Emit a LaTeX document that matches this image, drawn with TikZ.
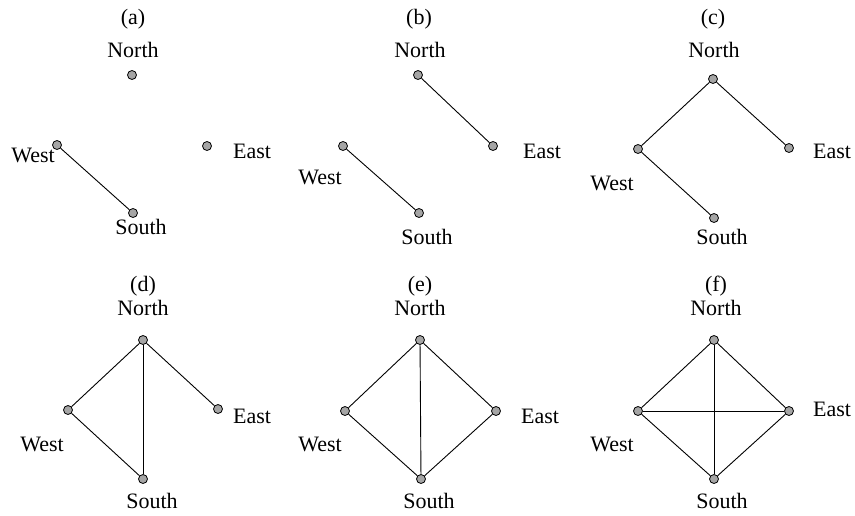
\documentclass[tikz,border=0pt]{standalone}
\usepackage{fontspec}
\setmainfont{Liberation Serif}
\definecolor{dotgray}{RGB}{165,165,165}
\begin{document}
\begin{tikzpicture}[x=1pt,y=-1pt,
  vtx/.style={circle,draw=black,fill=dotgray,line width=0.8pt,minimum size=9pt,inner sep=0pt},
  lbl/.style={anchor=base,inner sep=0pt,font=\fontsize{22}{25}\selectfont},
  edge/.style={draw=black,line width=0.9pt}]
\useasboundingbox (0,0) rectangle (855,515);
% ---------- (a)
\node[lbl] (ta) at (133,24) {(a)};
\node[lbl] (aNl) at (133,57) {North};
\node[lbl] (aWl) at (33,162) {West};
\node[lbl] (aEl) at (252,158) {East};
\node[lbl] (aSl) at (141,234) {South};
\node[vtx] (aN) at (132,75) {};
\node[vtx] (aW) at (57,145) {};
\node[vtx] (aE) at (207,146) {};
\node[vtx] (aS) at (133,213) {};
\draw[edge] (aW) -- (aS);
% ---------- (b)
\node[lbl] (tb) at (419,24) {(b)};
\node[lbl] (bNl) at (420,57) {North};
\node[lbl] (bWl) at (320,184) {West};
\node[lbl] (bEl) at (542,158) {East};
\node[lbl] (bSl) at (427,244) {South};
\node[vtx] (bN) at (418,75) {};
\node[vtx] (bW) at (343,146) {};
\node[vtx] (bE) at (493,146) {};
\node[vtx] (bS) at (419,213) {};
\draw[edge] (bW) -- (bS);
\draw[edge] (bN) -- (bE);
% ---------- (c)
\node[lbl] (tc) at (713,24) {(c)};
\node[lbl] (cNl) at (714,57) {North};
\node[lbl] (cWl) at (612,190) {West};
\node[lbl] (cEl) at (832,158) {East};
\node[lbl] (cSl) at (722,244) {South};
\node[vtx] (cN) at (713,79) {};
\node[vtx] (cW) at (638,149) {};
\node[vtx] (cE) at (789,148) {};
\node[vtx] (cS) at (714,218) {};
\draw[edge] (cW) -- (cS);
\draw[edge] (cN) -- (cE);
\draw[edge] (cN) -- (cW);
% ---------- (d)
\node[lbl] (td) at (143,291) {(d)};
\node[lbl] (dNl) at (143,315) {North};
\node[lbl] (dWl) at (42,451) {West};
\node[lbl] (dEl) at (252,423) {East};
\node[lbl] (dSl) at (152,508) {South};
\node[vtx] (dN) at (143,340) {};
\node[vtx] (dW) at (68,410) {};
\node[vtx] (dE) at (218,409) {};
\node[vtx] (dS) at (143,479) {};
\draw[edge] (dW) -- (dS);
\draw[edge] (dN) -- (dE);
\draw[edge] (dN) -- (dW);
\draw[edge] (dN) -- (dS);
% ---------- (e)
\node[lbl] (te) at (420,291) {(e)};
\node[lbl] (eNl) at (420,315) {North};
\node[lbl] (eWl) at (320,451) {West};
\node[lbl] (eEl) at (540,423) {East};
\node[lbl] (eSl) at (429,508) {South};
\node[vtx] (eN) at (420,340) {};
\node[vtx] (eW) at (345,411) {};
\node[vtx] (eE) at (496,411) {};
\node[vtx] (eS) at (421,479) {};
\draw[edge] (eW) -- (eS);
\draw[edge] (eN) -- (eE);
\draw[edge] (eN) -- (eW);
\draw[edge] (eN) -- (eS);
\draw[edge] (eE) -- (eS);
% ---------- (f)
\node[lbl] (tf) at (716,291) {(f)};
\node[lbl] (fNl) at (716,315) {North};
\node[lbl] (fWl) at (612,451) {West};
\node[lbl] (fEl) at (832,416) {East};
\node[lbl] (fSl) at (722,508) {South};
\node[vtx] (fN) at (714,340) {};
\node[vtx] (fW) at (638,411) {};
\node[vtx] (fE) at (789,411) {};
\node[vtx] (fS) at (714,479) {};
\draw[edge] (fW) -- (fS);
\draw[edge] (fN) -- (fE);
\draw[edge] (fN) -- (fW);
\draw[edge] (fN) -- (fS);
\draw[edge] (fE) -- (fS);
\draw[edge] (fW) -- (fE);
\end{tikzpicture}
\end{document}
